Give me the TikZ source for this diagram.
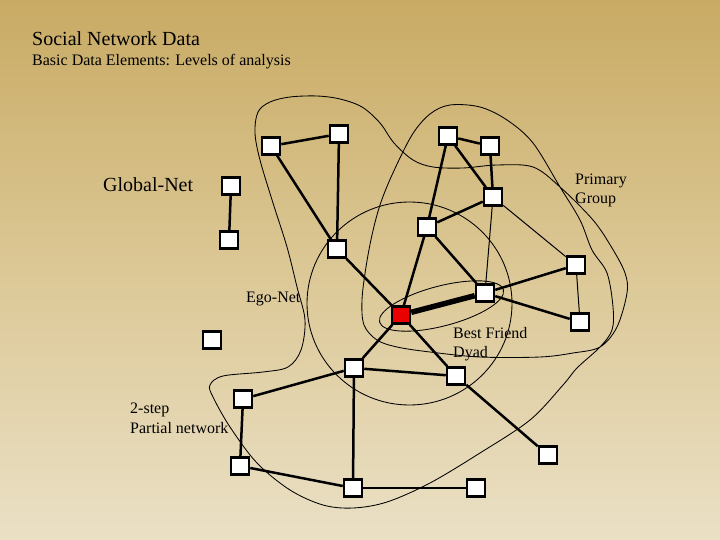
\documentclass[tikz,border=0pt]{standalone}
\usepackage{fontspec}
\setmainfont{Liberation Serif}
\definecolor{bgtop}{RGB}{200,170,100}
\definecolor{bgmid}{RGB}{220,200,150}
\definecolor{bgbot}{RGB}{234,224,197}
\definecolor{egored}{RGB}{235,0,0}
\begin{document}
\begin{tikzpicture}[x=1pt,y=-1pt,
  nd/.style={draw=black,fill=white,line width=2.5pt,minimum width=18pt,minimum height=17pt,inner sep=0pt},
  egonode/.style={nd,fill=egored},
  ed/.style={line width=2.5pt},
  weak/.style={line width=1pt},
  bond/.style={line width=5.5pt},
  hull/.style={line width=0.85pt},
  lbl/.style={anchor=base west,inner sep=0pt,font=\fontsize{16}{19}\selectfont},
  big/.style={anchor=base west,inner sep=0pt,font=\fontsize{20}{24}\selectfont}]
\useasboundingbox (0,0) rectangle (720,540);
\fill[top color=bgtop,bottom color=bgbot,middle color=bgmid] (0,0) rectangle (720,540);

% texts
\node[big] (title) at (32,46) {Social Network Data};
\node[lbl] (subtitle) at (32,66) {Basic Data Elements: Levels of analysis};
\node[big] (global) at (103,192) {Global-Net};
\node[lbl] (egolbl) at (246,302) {Ego-Net};
\node[lbl] (pg1) at (575,185) {Primary};
\node[lbl] (pg2) at (575,204) {Group};
\node[lbl] (bf1) at (453,338) {Best Friend};
\node[lbl] (bf2) at (453,357) {Dyad};
\node[lbl] (ts1) at (130,413) {2-step};
\node[lbl] (ts2) at (130,433) {Partial network};

% hulls
\draw[hull] (409.5,303.5) ellipse [x radius=102.5, y radius=101.5];
\draw[hull,rotate around={14.6:(441.5,306)}] (441.5,306) ellipse [x radius=64, y radius=20];
\draw[hull] plot[smooth cycle,tension=0.55] coordinates {
 (255,133) (258,112) (270,102) (290,97) (317,96) (340,99) (362,107) (380,123)
 (394,143) (413,160) (433,167) (463,168) (497,165) (533,167) (560,187) (593,220)
 (612,248) (625,273) (627,293) (617,327) (600,347) (573,353) (540,357) (480,357)
 (430,352) (397,347) (377,340) (364,325) (362,300) (366,267) (372,235) (380,205)
 (392,175) (412,135) (430,114) (450,105) (480,107) (507,120) (533,143) (560,187)
 (580,220) (592,250) (607,273) (613,307) (612,330) (600,347) (577,368) (563,385)
 (530,420) (480,453) (430,483) (387,502) (353,508) (323,505) (290,490) (257,463)
 (230,427) (213,397) (210,385) (223,376) (263,372) (288,367) (301,350) (305,320)
 (297,287) (287,247) (273,203) (260,160)};

% nodes
\node[nd] (A) at (271,146) {};
\node[nd] (B) at (339,134) {};
\node[nd] (C) at (231,186) {};
\node[nd] (D) at (229,240) {};
\node[nd] (E) at (337,249) {};
\node[nd] (F) at (448,136) {};
\node[nd] (G) at (490,146) {};
\node[nd] (H) at (493,197) {};
\node[nd] (I) at (427,227) {};
\node[nd] (J) at (576,265) {};
\node[nd] (K) at (485,293) {};
\node[egonode] (ego) at (401,315) {};
\node[nd] (L) at (580,322) {};
\node[nd] (M) at (212,340) {};
\node[nd] (N) at (354,368) {};
\node[nd] (O) at (456,376) {};
\node[nd] (P) at (243,399) {};
\node[nd] (Q) at (548,455) {};
\node[nd] (R) at (240,466) {};
\node[nd] (S) at (353,488) {};
\node[nd] (T) at (476,488) {};

% edges
\draw[ed] (A) -- (B);
\draw[ed] (A) -- (E);
\draw[ed] (B) -- (E);
\draw[ed] (C) -- (D);
\draw[ed] (F) -- (G);
\draw[ed] (F) -- (I);
\draw[ed] (F) -- (H);
\draw[ed] (G) -- (H);
\draw[ed] (I) -- (H);
\draw[ed] (I) -- (ego);
\draw[ed] (I) -- (K);
\draw[ed] (E) -- (ego);
\draw[bond] (ego) -- (K);
\draw[weak] (H) -- (K);
\draw[weak] (H) -- (J);
\draw[ed] (K) -- (J);
\draw[ed] (K) -- (L);
\draw[weak] (J) -- (L);
\draw[ed] (ego) -- (N);
\draw[ed] (ego) -- (O);
\draw[ed] (N) -- (O);
\draw[ed] (N) -- (P);
\draw[ed] (N) -- (S);
\draw[ed] (P) -- (R);
\draw[ed] (R) -- (S);
\draw[ed] (S) -- (T);
\draw[ed] (O) -- (Q);
\end{tikzpicture}
\end{document}
